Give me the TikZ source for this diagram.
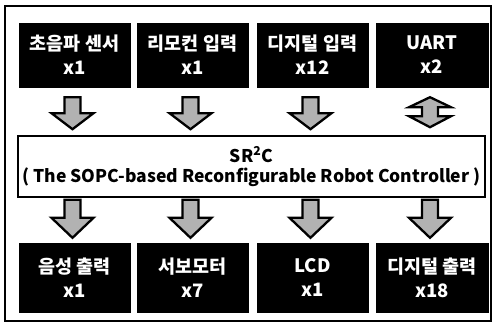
\documentclass[tikz,border=0pt]{standalone}
\usepackage{fontspec}
\setmainfont{Noto Sans CJK KR}
\usetikzlibrary{calc}
\tikzset{
  x=1pt, y=-1pt,
  blk/.style={fill=black, draw=black, minimum width=111pt, minimum height=64pt, inner sep=0pt,
    text=white, font=\fontsize{18.5}{24}\selectfont\bfseries, align=center},
  blkb/.style={blk, minimum height=69pt},
  mid/.style={draw=black, line width=2pt, fill=white, minimum width=467pt, minimum height=61pt,
    inner sep=0pt, font=\fontsize{17.5}{20}\selectfont\bfseries, align=center},
  barrow/.style={fill=black!30, draw=black, line width=2.3pt, line join=miter},
}
% down block arrow: #1 = top centre, #2 shaft length, #3 head length
\newcommand{\dnarrow}[3]{%
  \draw[barrow] ($#1+(-8,0)$) -- ($#1+(8,0)$) -- ($#1+(8,#2)$) -- ($#1+(21,#2)$)
    -- ($#1+(0,#2+#3)$) -- ($#1+(-21,#2)$) -- ($#1+(-8,#2)$) -- cycle;}
\begin{document}
\begin{tikzpicture}
\useasboundingbox (0,0) rectangle (496,325);
\draw[line width=1.5pt] (5,6) rectangle (491,321);
% top boxes
\node[blk] (s1) at (74.5,55) {초음파 센서\\x1};
\node[blk] (s2) at (192.5,55) {리모컨 입력\\x1};
\node[blk] (s3) at (312.5,55) {디지털 입력\\x12};
\node[blk, minimum width=112pt] (s4) at (432,55) {UART\\x2};
% middle
\node[mid] (m) at (251.5,166.5) {SR\textsuperscript{2}C\\( The SOPC-based Reconfigurable Robot Controller )};
% bottom boxes
\node[blkb] (o1) at (74.5,277.5) {음성 출력\\x1};
\node[blkb] (o2) at (192.5,277.5) {서보모터\\x7};
\node[blkb] (o3) at (312.5,277.5) {LCD\\x1};
\node[blkb, minimum width=112pt] (o4) at (432,277.5) {디지털 출력\\x18};
% top arrows
\dnarrow{($(s1.south)+(-2,10)$)}{16}{16}
\dnarrow{($(s2.south)+(-2,10)$)}{16}{16}
\dnarrow{($(s3.south)+(-2,10)$)}{16}{16}
% double arrow UART
\coordinate (u) at ($(s4.south)+(-2,10)$);
\draw[barrow] ($(u)+(0,0)$) -- ($(u)+(21,10)$) -- ($(u)+(8,10)$) -- ($(u)+(8,19)$) -- ($(u)+(21,19)$)
  -- ($(u)+(0,30)$) -- ($(u)+(-21,19)$) -- ($(u)+(-8,19)$) -- ($(u)+(-8,10)$) -- ($(u)+(-21,10)$) -- cycle;
% bottom arrows
\dnarrow{($(o1.north)+(-2,-43)$)}{18}{20}
\dnarrow{($(o2.north)+(-2,-43)$)}{18}{20}
\dnarrow{($(o3.north)+(-2,-43)$)}{18}{20}
\dnarrow{($(o4.north)+(-2,-43)$)}{18}{20}
\end{tikzpicture}
\end{document}
